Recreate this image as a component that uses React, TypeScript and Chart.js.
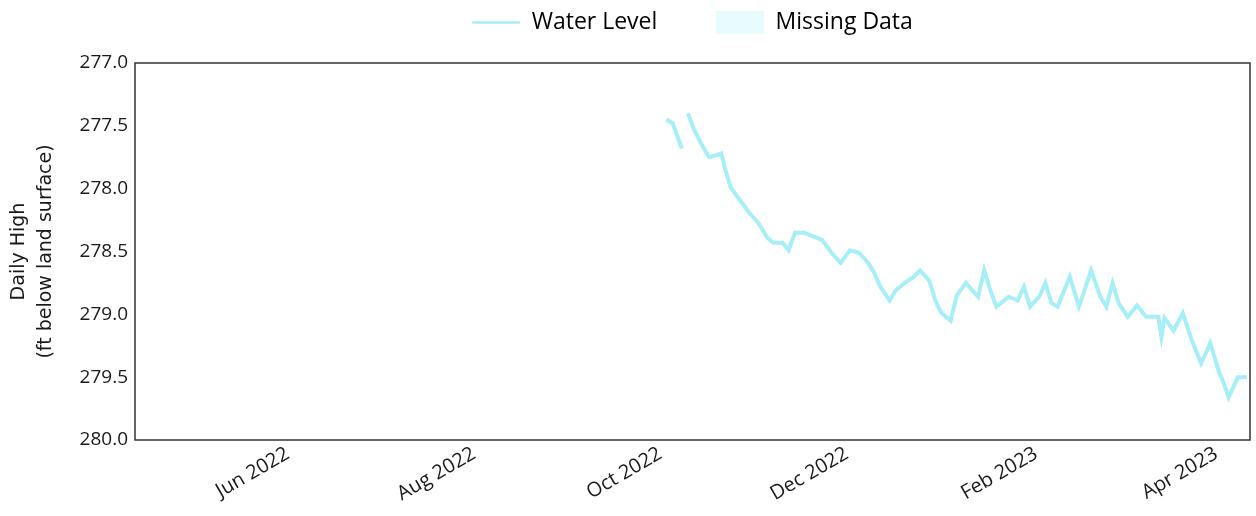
import React, { useEffect, useRef } from 'react';
import { Chart, registerables } from 'chart.js';

Chart.register(...registerables);

// ---- data ----
const dates: string[] = [
  '2022-10-03', '2022-10-05', '2022-10-08', '2022-10-09',
  '2022-10-10', '2022-10-12', '2022-10-15', '2022-10-17', '2022-10-21', '2022-10-22',
  '2022-10-24', '2022-10-27', '2022-10-30', '2022-11-02', '2022-11-05', '2022-11-07',
  '2022-11-10', '2022-11-12', '2022-11-14', '2022-11-17', '2022-11-20', '2022-11-23',
  '2022-11-26', '2022-11-29', '2022-12-02', '2022-12-05', '2022-12-08', '2022-12-10',
  '2022-12-12', '2022-12-15', '2022-12-17', '2022-12-20', '2022-12-23', '2022-12-25',
  '2022-12-28', '2022-12-30', '2023-01-01', '2023-01-04', '2023-01-06', '2023-01-09',
  '2023-01-13', '2023-01-15', '2023-01-17', '2023-01-19', '2023-01-23', '2023-01-26',
  '2023-01-28', '2023-01-30', '2023-02-02', '2023-02-04', '2023-02-06', '2023-02-08',
  '2023-02-12', '2023-02-15', '2023-02-19', '2023-02-22', '2023-02-24', '2023-02-26',
  '2023-02-28', '2023-03-03', '2023-03-06', '2023-03-09', '2023-03-13', '2023-03-14',
  '2023-03-15', '2023-03-18', '2023-03-21', '2023-03-24', '2023-03-27', '2023-03-30',
  '2023-04-02', '2023-04-03', '2023-04-05', '2023-04-08', '2023-04-11',
];

const waterLevel: (number | null)[] = [
  277.45, 277.48, 277.68, null,
  277.40, 277.53, 277.67, 277.75, 277.72, 277.83,
  277.99, 278.09, 278.19, 278.27, 278.39, 278.43,
  278.43, 278.49, 278.35, 278.35, 278.38, 278.41,
  278.51, 278.59, 278.49, 278.51, 278.59, 278.67,
  278.78, 278.89, 278.81, 278.75, 278.70, 278.65,
  278.73, 278.89, 278.99, 279.05, 278.85, 278.75,
  278.86, 278.65, 278.81, 278.94, 278.86, 278.89,
  278.78, 278.94, 278.86, 278.75, 278.91, 278.94,
  278.70, 278.94, 278.65, 278.86, 278.94, 278.75,
  278.91, 279.02, 278.93, 279.02, 279.02, 279.18,
  279.03, 279.13, 278.99, 279.21, 279.39, 279.23,
  279.47, 279.52, 279.66, 279.50, 279.50,
];

const xAxisStart = '2022-04-12';
const xAxisEnd = '2023-04-12';
const tickDates: string[] = [
  '2022-06-01', '2022-08-01', '2022-10-01', '2022-12-01', '2023-02-01', '2023-04-01',
];
const monthNames: string[] = [
  'Jan', 'Feb', 'Mar', 'Apr', 'May', 'Jun', 'Jul', 'Aug', 'Sep', 'Oct', 'Nov', 'Dec',
];
const yMin = 277.0;
const yMax = 280.0;
const yStep = 0.5;

const seriesLabel = 'Water Level';
const missingLabel = 'Missing Data';
const yTitle: string[] = ['Daily High', '(ft below land surface)'];

// ---- styles ----
const LINE_COLOR = '#a6eff9';
const MISSING_COLOR = '#e8fbfd';
const AXIS_COLOR = '#333333';
const TEXT_COLOR = '#1a1a1a';
const TICK_FONT = 'Open Sans';

function fmtDate(v: number): string {
  const d = new Date(v);
  return `${monthNames[d.getUTCMonth()]} ${d.getUTCFullYear()}`;
}

const boxPlugin = {
  id: 'plotBox',
  afterDraw(chart: any) {
    const { ctx, chartArea } = chart;
    ctx.save();
    ctx.strokeStyle = AXIS_COLOR;
    ctx.lineWidth = 1.5;
    ctx.strokeRect(chartArea.left, chartArea.top, chartArea.right - chartArea.left, chartArea.bottom - chartArea.top);
    ctx.restore();
  },
};

const legendSpacer = {
  id: 'legendSpacer',
  beforeInit(chart: any) {
    const orig = chart.legend.fit;
    chart.legend.fit = function () {
      orig.call(this);
      this.height = 63;
    };
  },
};

export default function App() {
  const ref = useRef<HTMLCanvasElement | null>(null);

  useEffect(() => {
    if (!ref.current) return;
    const points = dates.map((d, i) => ({ x: Date.parse(d), y: waterLevel[i] }));
    const chart = new Chart(ref.current, {
      type: 'line',
      data: {
        datasets: [
          {
            label: seriesLabel,
            data: points as any,
            borderColor: LINE_COLOR,
            backgroundColor: LINE_COLOR,
            borderWidth: 4,
            pointRadius: 0,
            tension: 0,
            spanGaps: false,
          },
        ],
      },
      options: {
        animation: false,
        responsive: true,
        maintainAspectRatio: false,
        layout: { padding: { left: 0, right: 6, top: 0, bottom: 0 } },
        plugins: {
          legend: {
            display: true,
            position: 'top',
            fullSize: false,
            labels: {
              usePointStyle: true,
              pointStyleWidth: 48,
              boxHeight: 23,
              padding: 11,
              color: TEXT_COLOR,
              font: { family: TICK_FONT, size: 23 },
              generateLabels: () => [
                {
                  text: seriesLabel + '        ',
                  pointStyle: 'line',
                  strokeStyle: LINE_COLOR,
                  fillStyle: LINE_COLOR,
                  lineWidth: 2.5,
                  datasetIndex: 0,
                  hidden: false,
                } as any,
                {
                  text: missingLabel,
                  pointStyle: 'rect',
                  strokeStyle: MISSING_COLOR,
                  fillStyle: MISSING_COLOR,
                  lineWidth: 0,
                  hidden: false,
                } as any,
              ],
            },
          },
          tooltip: { enabled: false },
        },
        scales: {
          x: {
            type: 'linear',
            min: Date.parse(xAxisStart),
            max: Date.parse(xAxisEnd),
            afterBuildTicks: (scale: any) => {
              scale.ticks = tickDates.map((d) => ({ value: Date.parse(d) }));
            },
            afterFit: (scale: any) => {
              scale.height = 76;
            },
            grid: { display: false, drawTicks: false, tickLength: 0 },
            border: { display: false },
            ticks: {
              autoSkip: false,
              minRotation: 30,
              maxRotation: 30,
              padding: 2,
              color: TEXT_COLOR,
              font: { family: TICK_FONT, size: 20 },
              callback: (v: any) => fmtDate(Number(v)),
            },
          },
          y: {
            type: 'linear',
            reverse: true,
            min: yMin,
            max: yMax,
            afterFit: (scale: any) => {
              scale.width = 135;
            },
            grid: { display: false, drawTicks: false, tickLength: 0 },
            border: { display: false },
            ticks: {
              stepSize: yStep,
              padding: 7,
              color: TEXT_COLOR,
              font: { family: TICK_FONT, size: 19 },
              callback: (v: any) => Number(v).toFixed(1),
            },
            title: {
              display: true,
              text: yTitle,
              color: TEXT_COLOR,
              padding: { top: 5, bottom: 0 },
              font: { family: 'DejaVu Sans', size: 19, lineHeight: 1.45 },
            },
          },
        },
      },
      plugins: [boxPlugin, legendSpacer],
    });
    return () => chart.destroy();
  }, []);

  return (
    <div style={{ position: 'absolute', left: 0, top: 0, width: 1256, height: 516, background: '#fff' }}>
      <canvas ref={ref} />
    </div>
  );
}
